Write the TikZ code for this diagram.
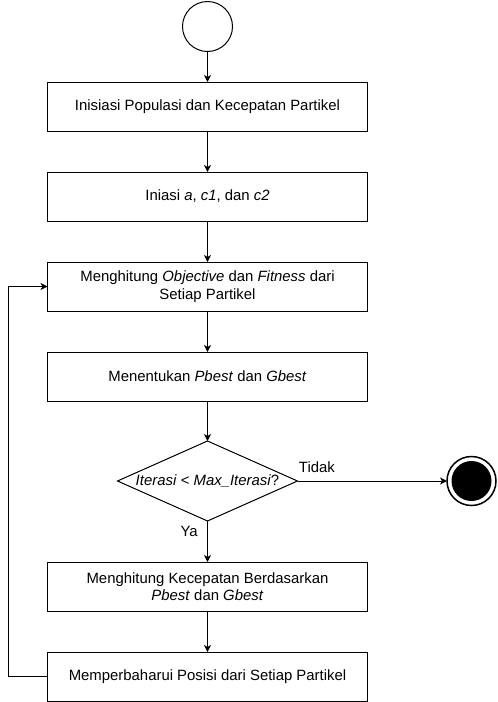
\documentclass[tikz,border=0pt]{standalone}
\usepackage{fontspec}
\setmainfont{Liberation Sans}
\usetikzlibrary{positioning,shapes.geometric,arrows.meta}

\begin{document}
\begin{tikzpicture}[x=1pt, y=-1pt,
        font=\fontsize{14.9}{17.5}\selectfont,
        line width=1pt,
        every node/.style={outer sep=0pt},
        procbox/.style={draw, rectangle, minimum width=320pt, minimum height=49pt, align=center, inner sep=2pt},
        flowarr/.style={-{Stealth[length=7pt, width=7pt, inset=2pt]}},
        node distance=41pt]
        \useasboundingbox (0,0) rectangle (498,702);
        \node[draw, circle, minimum size=50pt] (start) at (207.5,26.5) {};
        \node[procbox, below=30.5pt of start] (init) {Inisiasi Populasi dan Kecepatan Partikel};
        \node[procbox, below=of init] (param) {Iniasi \textit{a}, \textit{c1}, dan \textit{c2}};
        \node[procbox, below=of param] (eval) {Menghitung \textit{Objective} dan \textit{Fitness} dari\\Setiap Partikel};
        \node[procbox, below=of eval] (best) {Menentukan \textit{Pbest} dan \textit{Gbest}};
        \node[draw, diamond, aspect=2.25, minimum width=180pt, minimum height=80pt, inner sep=0pt, below=40pt of best] (check) {\textit{Iterasi} < \textit{Max\_Iterasi}?};
        \node[procbox, below=of check] (speed) {Menghitung Kecepatan Berdasarkan\\\textit{Pbest} dan \textit{Gbest}};
        \node[procbox, below=of speed] (update) {Memperbaharui Posisi dari Setiap Partikel};
        \node[draw, circle, line width=1.5pt, minimum size=49pt, right=149.5pt of check,
            path picture={\fill (path picture bounding box.center) circle (20pt);}] (stop) {};

        \draw[flowarr] (start) -- (init);
        \draw[flowarr] (init) -- (param);
        \draw[flowarr] (param) -- (eval);
        \draw[flowarr] (eval) -- (best);
        \draw[flowarr] (best) -- (check);
        \draw[flowarr] (check) -- node[pos=0.26, left=6.5pt] {Ya} (speed);
        \draw[flowarr] (check) -- node[pos=0.13, above=5pt] {Tidak} (stop);
        \draw[flowarr] (speed) -- (update);
        \draw[flowarr] (update.west) -- ++(-39.5pt,0) |- (eval.west);
    \end{tikzpicture}
\end{document}
